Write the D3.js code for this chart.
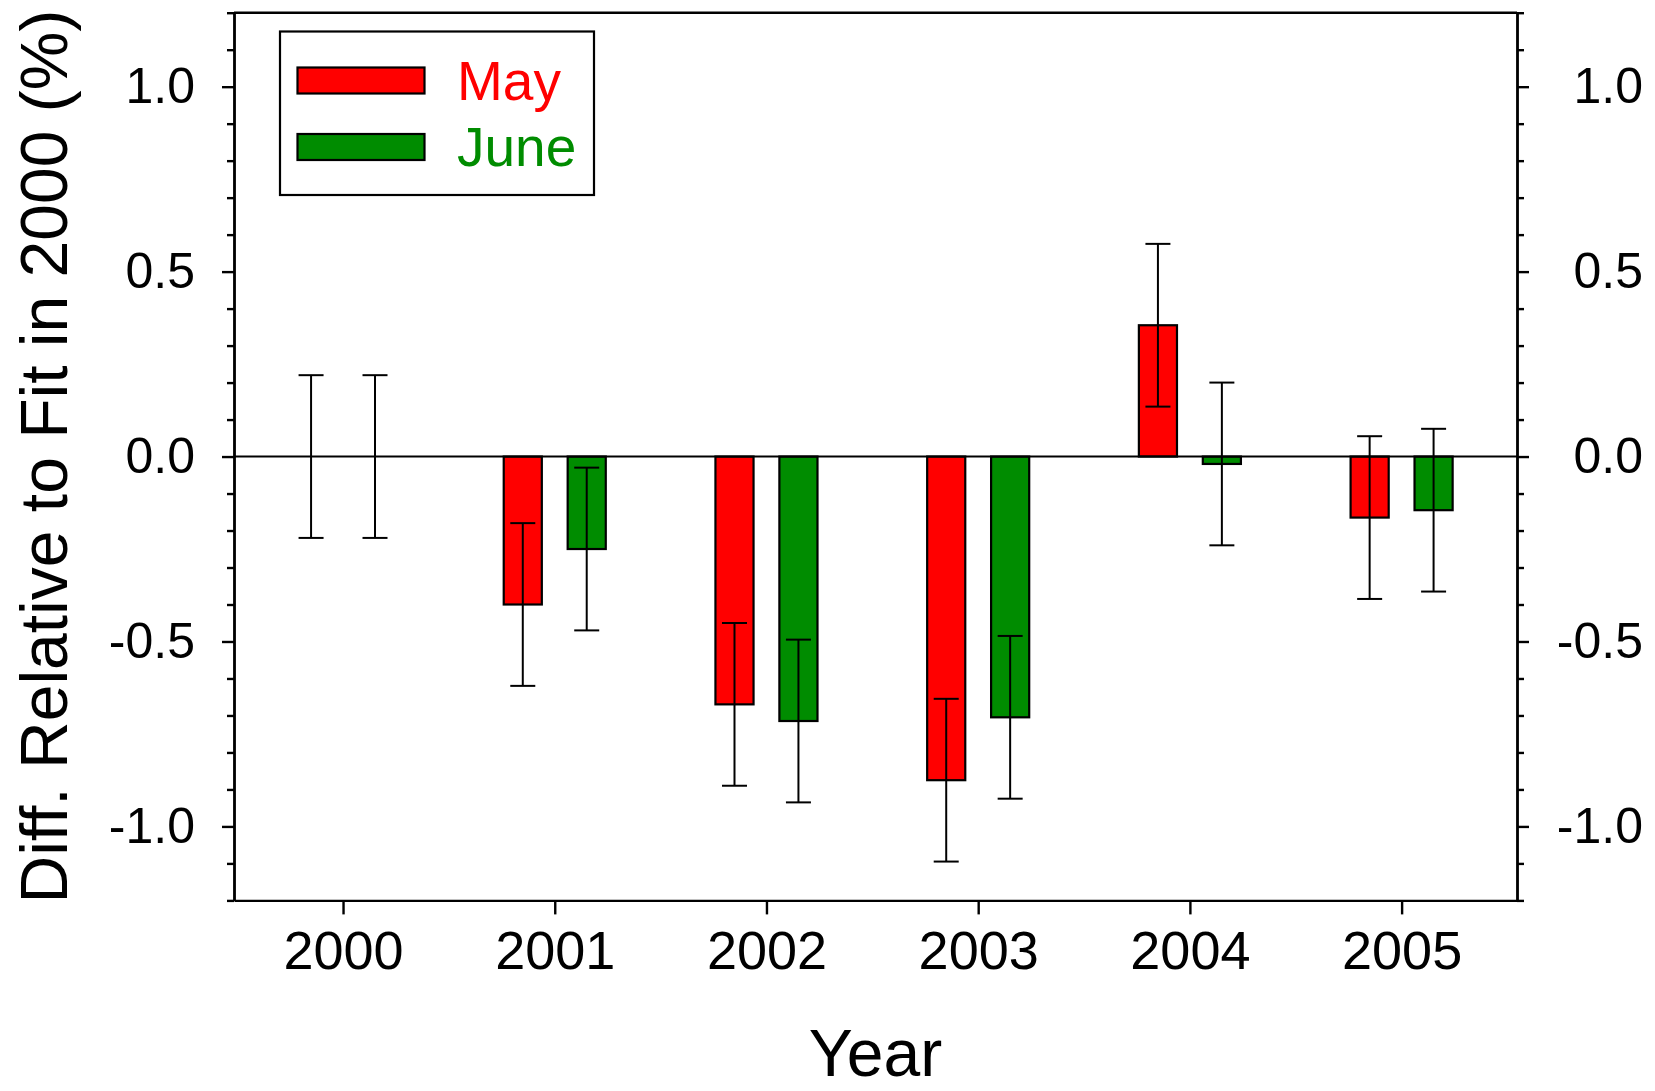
<!DOCTYPE html>
<html>
<head>
<meta charset="utf-8">
<script src="https://cdn.jsdelivr.net/npm/d3@7"></script>
<style>
  html, body { margin: 0; padding: 0; background: #fff; }
  svg { display: block; }
</style>
</head>
<body>
<div id="chart"></div>
<script>
const years = [2000, 2001, 2002, 2003, 2004, 2005];
const seriesNames = ["May", "June"];
const mayValues = [0, -0.40, -0.67, -0.875, 0.355, -0.165];
const juneValues = [0, -0.25, -0.715, -0.705, -0.02, -0.145];
const mayErrors = [0.22, 0.22, 0.22, 0.22, 0.22, 0.22];
const juneErrors = [0.22, 0.22, 0.22, 0.22, 0.22, 0.22];
const yMajorTicks = [-1.0, -0.5, 0.0, 0.5, 1.0];
const yMinorTicks = [-1.2, -1.1, -0.9, -0.8, -0.7, -0.6, -0.4, -0.3, -0.2, -0.1,
  0.1, 0.2, 0.3, 0.4, 0.6, 0.7, 0.8, 0.9, 1.1, 1.2];
const xTitle = "Year";
const yTitle = "Diff. Relative to Fit in 2000 (%)";

function styleAxis(g, fontSize) {
  g.attr("font-family", null).attr("font-size", fontSize);
  g.selectAll("path.domain, .tick line").attr("stroke", "#000").attr("stroke-width", 2.4);
  g.selectAll(".tick text").attr("fill", "#000");
}

function main() {
  const W = 1655;
  const H = 1091;
  const plot = {left: 234, right: 1517, top: 12.7, bottom: 900.4};
  const font = '"Liberation Sans", Arial, Helvetica, sans-serif';
  const colors = {May: "#ff0000", June: "#008c00"};
  const fmt = (d) => d.toFixed(1);

  const svg = d3
    .select("#chart")
    .append("svg")
    .attr("width", W)
    .attr("height", H)
    .attr("viewBox", `0 0 ${W} ${H}`)
    .attr("font-family", font);

  svg.append("rect").attr("width", W).attr("height", H).attr("fill", "#fff");

  const x = d3.scaleLinear().domain([1999.485, 2005.545]).range([plot.left, plot.right]);
  const y = d3.scaleLinear().domain([-1.2, 1.2]).range([plot.bottom, plot.top]);

  // bar width and side offset, in years
  const barW = 0.18;
  const off = 0.151;
  const series = [
    {name: seriesNames[0], values: mayValues, errors: mayErrors, dx: -off},
    {name: seriesNames[1], values: juneValues, errors: juneErrors, dx: off},
  ];

  const gBars = svg.append("g").attr("class", "bars");
  for (const s of series) {
    const rows = years.map((yr, i) => ({yr, v: s.values[i], e: s.errors[i]}));
    gBars
      .append("g")
      .selectAll("rect")
      .data(rows.filter((d) => d.v !== 0))
      .join("rect")
      .attr("x", (d) => x(d.yr + s.dx - barW / 2))
      .attr("width", (d) => x(d.yr + s.dx + barW / 2) - x(d.yr + s.dx - barW / 2))
      .attr("y", (d) => y(Math.max(0, d.v)))
      .attr("height", (d) => Math.abs(y(d.v) - y(0)))
      .attr("fill", colors[s.name])
      .attr("stroke", "#000")
      .attr("stroke-width", 2.2);
  }

  // zero line
  svg
    .append("line")
    .attr("x1", plot.left)
    .attr("x2", plot.right)
    .attr("y1", y(0))
    .attr("y2", y(0))
    .attr("stroke", "#000")
    .attr("stroke-width", 2);

  // error bars
  const cap = 12.5;
  const gErr = svg.append("g").attr("class", "errors").attr("stroke", "#000").attr("stroke-width", 2);
  for (const s of series) {
    const rows = years.map((yr, i) => ({cx: x(yr + s.dx), v: s.values[i], e: s.errors[i]}));
    const g = gErr.append("g").selectAll("g").data(rows).join("g");
    g.append("line")
      .attr("x1", (d) => d.cx)
      .attr("x2", (d) => d.cx)
      .attr("y1", (d) => y(d.v + d.e))
      .attr("y2", (d) => y(d.v - d.e));
    g.append("line")
      .attr("x1", (d) => d.cx - cap)
      .attr("x2", (d) => d.cx + cap)
      .attr("y1", (d) => y(d.v + d.e))
      .attr("y2", (d) => y(d.v + d.e));
    g.append("line")
      .attr("x1", (d) => d.cx - cap)
      .attr("x2", (d) => d.cx + cap)
      .attr("y1", (d) => y(d.v - d.e))
      .attr("y2", (d) => y(d.v - d.e));
  }

  // axes
  const gLeftMinor = svg.append("g").attr("transform", `translate(${plot.left},0)`)
    .call(d3.axisLeft(y).tickValues(yMinorTicks).tickFormat("").tickSize(7).tickSizeOuter(0));
  styleAxis(gLeftMinor, 50);

  const gLeft = svg.append("g").attr("transform", `translate(${plot.left},0)`)
    .call(d3.axisLeft(y).tickValues(yMajorTicks).tickFormat(fmt).tickSize(12).tickPadding(27).tickSizeOuter(0));
  styleAxis(gLeft, 50);

  const gRightMinor = svg.append("g").attr("transform", `translate(${plot.right},0)`)
    .call(d3.axisRight(y).tickValues(yMinorTicks).tickFormat("").tickSize(7).tickSizeOuter(0));
  styleAxis(gRightMinor, 50);

  const gRight = svg.append("g").attr("transform", `translate(${plot.right},0)`)
    .call(d3.axisRight(y).tickValues(yMajorTicks).tickFormat(fmt).tickSize(12).tickSizeOuter(0));
  styleAxis(gRight, 50);
  gRight.selectAll(".tick text").attr("text-anchor", "end").attr("x", 126);

  const gBottom = svg.append("g").attr("transform", `translate(0,${plot.bottom})`)
    .call(d3.axisBottom(x).tickValues(years).tickFormat((d) => String(d)).tickSize(14).tickPadding(16).tickSizeOuter(0));
  styleAxis(gBottom, 54);

  // top frame line
  svg
    .append("line")
    .attr("x1", plot.left)
    .attr("x2", plot.right)
    .attr("y1", plot.top)
    .attr("y2", plot.top)
    .attr("stroke", "#000")
    .attr("stroke-width", 2.4);

  // titles
  svg
    .append("text")
    .attr("transform", `translate(67,${(plot.top + plot.bottom) / 2}) rotate(-90)`)
    .attr("text-anchor", "middle")
    .attr("font-size", 66)
    .attr("fill", "#000")
    .text(yTitle);

  svg
    .append("text")
    .attr("x", (plot.left + plot.right) / 2)
    .attr("y", 1076)
    .attr("text-anchor", "middle")
    .attr("font-size", 66)
    .attr("fill", "#000")
    .text(xTitle);

  // legend
  const gLeg = svg.append("g").attr("class", "legend");
  gLeg
    .append("rect")
    .attr("x", 280)
    .attr("y", 31.5)
    .attr("width", 314)
    .attr("height", 163.5)
    .attr("fill", "#fff")
    .attr("stroke", "#000")
    .attr("stroke-width", 2.2);

  const items = gLeg
    .selectAll("g.item")
    .data(seriesNames)
    .join("g")
    .attr("class", "item")
    .attr("transform", (d, i) => `translate(0,${i * 66.5})`);

  items
    .append("rect")
    .attr("x", 297.5)
    .attr("y", 67.5)
    .attr("width", 127)
    .attr("height", 26)
    .attr("fill", (d) => colors[d])
    .attr("stroke", "#000")
    .attr("stroke-width", 2.2);

  items
    .append("text")
    .attr("x", 457)
    .attr("y", 99.5)
    .attr("font-size", 55)
    .attr("fill", (d) => colors[d])
    .text((d) => d);
}

main();
</script>
</body>
</html>
